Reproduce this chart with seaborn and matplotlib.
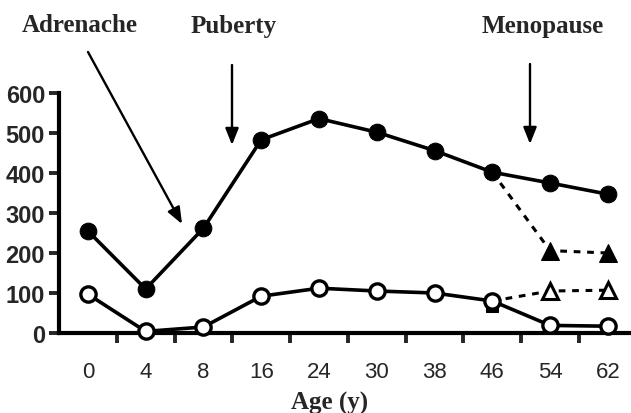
import matplotlib
matplotlib.use("Agg")
import matplotlib.pyplot as plt
import seaborn as sns
import pandas as pd

ages = ["0", "4", "8", "16", "24", "30", "38", "46", "54", "62"]
filled_vals = [255, 110, 262, 483, 536, 502, 456, 402, 375, 347]
open_vals = [97, 4, 15, 92, 112, 105, 100, 80, 19, 17]
tri_ages = ["46", "54", "62"]
tri_filled_vals = [402, 206, 200]
tri_open_vals = [80, 105, 107]
sq_ages = ["46"]
sq_vals = [68]
yticks = [0, 100, 200, 300, 400, 500, 600]

sns.set_style("white")
plt.rcParams['font.family'] = ['Liberation Sans', 'DejaVu Sans']

W, H = 631, 414
fig = plt.figure(figsize=(W / 100, H / 100), dpi=100)
ax = fig.add_axes([59 / W, 1 - 334 / H, (W - 59) / W, (334 - 94) / H])

lw = 2.6
sns.lineplot(x=ages, y=filled_vals, ax=ax, color="black", lw=lw, marker="o",
             markersize=12, markerfacecolor="black", markeredgecolor="black",
             sort=False, clip_on=False, zorder=4)
sns.lineplot(x=ages, y=open_vals, ax=ax, color="black", lw=lw, marker="o",
             markersize=11, markerfacecolor="white", markeredgecolor="black",
             markeredgewidth=2.4, sort=False, clip_on=False, zorder=4)
sns.lineplot(x=tri_ages, y=tri_filled_vals, ax=ax, color="black", lw=2.2,
             linestyle=(0, (2.2, 2.2)), sort=False, clip_on=False, zorder=3)
sns.lineplot(x=tri_ages[1:], y=tri_filled_vals[1:], ax=ax, color="black", lw=0,
             marker="^", markersize=13, markerfacecolor="black",
             markeredgecolor="black", sort=False, clip_on=False, zorder=5)
sns.lineplot(x=tri_ages, y=tri_open_vals, ax=ax, color="black", lw=2.2,
             linestyle=(0, (2.2, 2.2)), sort=False, clip_on=False, zorder=3)
sns.lineplot(x=tri_ages[1:], y=tri_open_vals[1:], ax=ax, color="black", lw=0,
             marker="^", markersize=12, markerfacecolor="white",
             markeredgecolor="black", markeredgewidth=2.2, sort=False,
             clip_on=False, zorder=5)
sns.lineplot(x=sq_ages, y=sq_vals, ax=ax, color="black", lw=0, marker="s",
             markersize=9, markerfacecolor="black", markeredgecolor="black",
             clip_on=False, zorder=3)

ax.set_xlim(-0.5, 9.4)
ax.set_ylim(0, 600)
ax.set_yticks(yticks)
ax.set_yticklabels([str(v) for v in yticks], fontsize=17, fontweight="bold")
ax.set_xticks(range(len(ages)))
ax.set_xticklabels(ages, fontsize=16)
ax.tick_params(axis="x", length=0, pad=20)
ax.tick_params(axis="y", length=7, width=2.8, direction="out", pad=3, left=True)
ax.set_xticks([i + 0.5 for i in range(len(ages) - 1)], minor=True)
ax.tick_params(axis="x", which="minor", length=7, width=2.8, direction="out",
               bottom=True)

for s in ["top", "right"]:
    ax.spines[s].set_visible(False)
for s in ["left", "bottom"]:
    ax.spines[s].set_linewidth(3)
    ax.spines[s].set_color("black")
ax.set_xlabel("")
ax.set_ylabel("")

serif = ['Liberation Serif', 'DejaVu Serif']
fig.text(80 / W, 1 - 26 / H, "Adrenache", family=serif, fontweight="bold",
         fontsize=18, ha="center", va="center")
fig.text(234 / W, 1 - 26 / H, "Puberty", family=serif, fontweight="bold",
         fontsize=18, ha="center", va="center")
fig.text(543 / W, 1 - 26 / H, "Menopause", family=serif, fontweight="bold",
         fontsize=18, ha="center", va="center")
fig.text(330 / W, 1 - 403 / H, "Age (y)", family=serif, fontweight="bold",
         fontsize=18, ha="center", va="center")

ap = dict(arrowstyle="-|>,head_length=1.0,head_width=0.4", color="black",
          lw=1.7, shrinkA=0, shrinkB=0)
def arrow(x0, y0, x1, y1):
    ax.annotate("", xy=(x1 / W, 1 - y1 / H), xytext=(x0 / W, 1 - y0 / H),
                xycoords="figure fraction", textcoords="figure fraction",
                arrowprops=ap, annotation_clip=False)

arrow(88, 53, 182, 225)
arrow(232, 66, 232, 146)
arrow(530, 65, 530, 145)

fig.savefig("out.png", dpi=100)
